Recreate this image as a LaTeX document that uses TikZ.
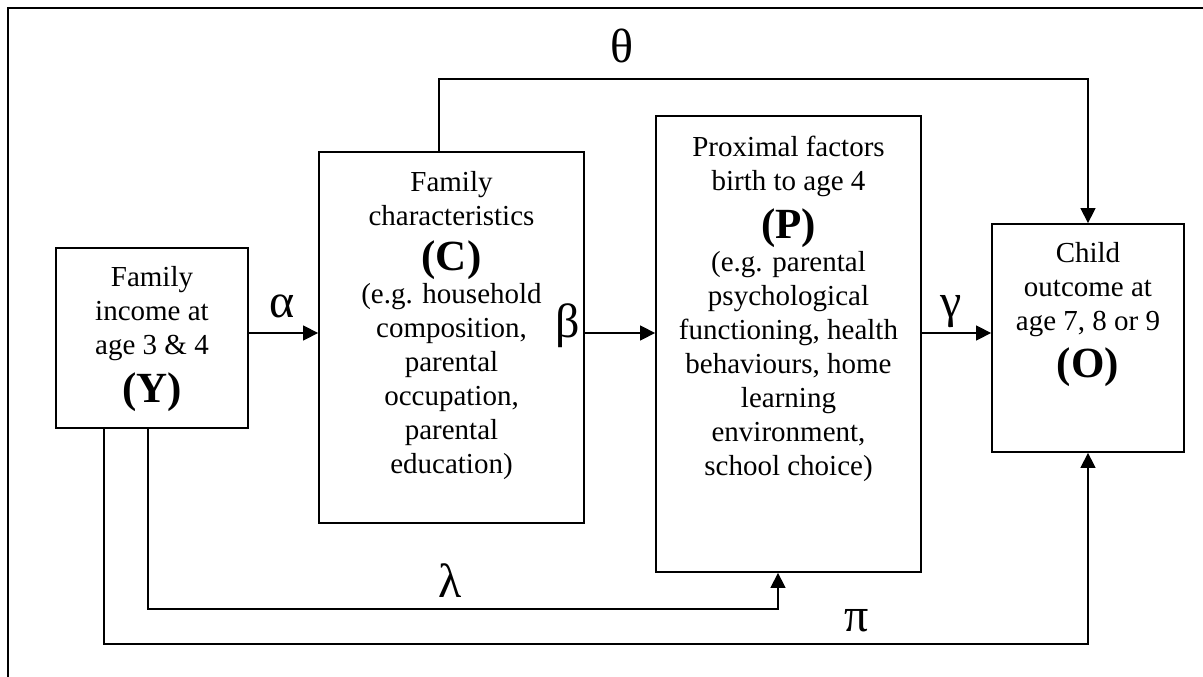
\documentclass[tikz,border=0pt]{standalone}
\usepackage{fontspec}
\setmainfont{Liberation Serif}
\usetikzlibrary{arrows.meta}
\newcommand\boldlbl[1]{{\fontsize{43}{48}\selectfont\bfseries #1}}
\begin{document}
\begin{tikzpicture}[x=1pt,y=-1pt,
  box/.style={draw,line width=1.8pt,rectangle,inner sep=0pt},
  txt/.style={anchor=north,inner sep=0pt,align=center,font=\fontsize{29}{34}\selectfont},
  greek/.style={inner sep=0pt,font=\fontsize{48}{54}\selectfont},
  conn/.style={line width=1.4pt},
  arr/.style={conn,-{Triangle[length=15pt,width=15pt]}}]
\useasboundingbox (0,0) rectangle (1203,677);
\clip (0,0) rectangle (1203,677);
\draw[line width=1.8pt] (8,8) rectangle (1240,720);

% boxes
\node[box,minimum width=192pt,minimum height=180pt] (Y) at (152,338) {};
\node[box,minimum width=265pt,minimum height=371pt] (C) at (451.5,337.5) {};
\node[box,minimum width=265pt,minimum height=456pt] (P) at (788.5,344) {};
\node[box,minimum width=192pt,minimum height=228pt] (O) at (1088,338) {};

% texts
\node[txt] (Yt) at ([yshift=-19pt]Y.north) {Family\\income at\\age 3 \& 4\\[11pt]\boldlbl{(Y)}};
\node[txt] (Ct) at ([yshift=-20pt]C.north) {Family\\characteristics\\[11pt]\boldlbl{(C)}\\[-1pt](e.g. household\\composition,\\parental\\occupation,\\parental\\education)};
\node[txt] (Pt) at ([yshift=-21pt]P.north) {Proximal factors\\birth to age 4\\[11pt]\boldlbl{(P)}\\[-1pt](e.g. parental\\psychological\\functioning, health\\behaviours, home\\learning\\environment,\\school choice)};
\node[txt] (Ot) at ([yshift=-19pt]O.north) {Child\\outcome at\\age 7, 8 or 9\\[10pt]\boldlbl{(O)}};

% connectors
\coordinate (r) at (0,333);
\draw[arr] (Y.east |- r) -- (C.west |- r);
\draw[arr] (C.east |- r) -- (P.west |- r);
\draw[arr] (P.east |- r) -- (O.west |- r);

\coordinate (th1) at (439,79);
\draw[arr] (C.north -| th1) -- (th1) -| (O.north);

\coordinate (la1) at (148,609);
\coordinate (la2) at (778,609);
\draw[arr] (Y.south -| la1) -- (la1) -- (la2) -- (P.south -| la2);

\coordinate (pi1) at (104,644);
\draw[arr] (Y.south -| pi1) -- (pi1) -| (O.south);

% greek labels
\node[greek] (lth) at (622,46) {θ};
\node[greek] (lal) at (282,306) {α};
\node[greek] (lbe) at (568,326) {β};
\node[greek] (lga) at (951,312) {γ};
\node[greek] (lla) at (450,581) {λ};
\node[greek] (lpi) at (857,621) {π};
\end{tikzpicture}
\end{document}
